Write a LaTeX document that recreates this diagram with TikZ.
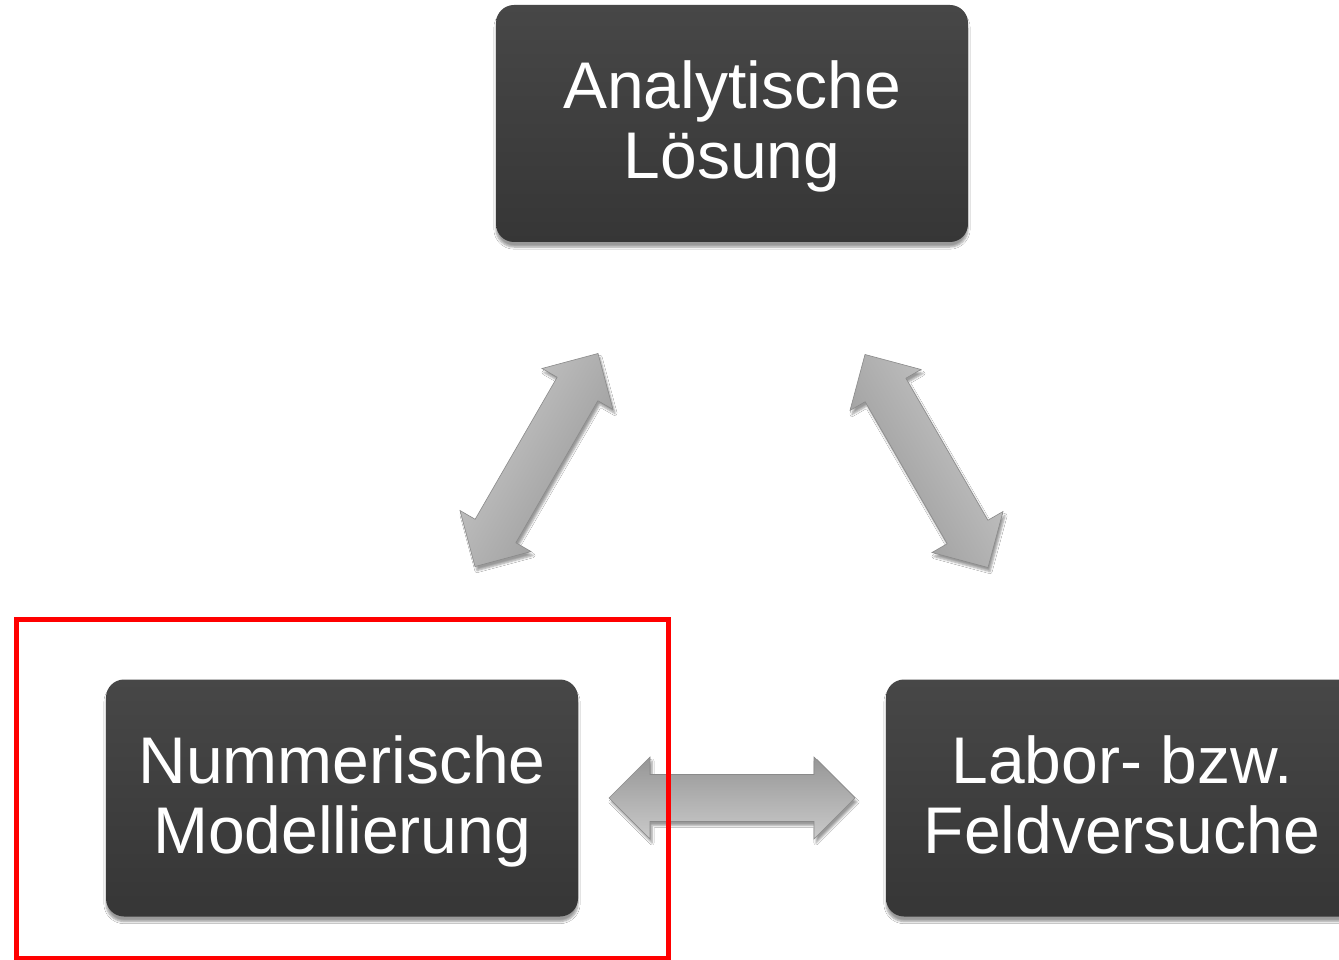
\documentclass[tikz,border=0pt]{standalone}
\usepackage{fontspec}
\setmainfont{Liberation Sans}
\usetikzlibrary{shadows.blur}
\definecolor{boxtop}{HTML}{474747}
\definecolor{boxbot}{HTML}{363636}
\definecolor{arrdark}{HTML}{969696}
\definecolor{arrmid}{HTML}{ABABAB}
\definecolor{arrlight}{HTML}{CACACA}
\definecolor{arredge}{HTML}{8A8A8A}
\tikzset{
  darkbox/.style={rectangle, rounded corners=18pt, minimum width=472pt, minimum height=237pt,
    inner sep=0pt, top color=boxtop, bottom color=boxbot, draw=none,
    blur shadow={shadow xshift=0pt, shadow yshift=-5pt, shadow blur steps=6, shadow blur extra rounding=2pt}},
  boxtext/.style={text=white, align=center, font=\fontsize{66}{70}\selectfont, inner sep=0pt},
  blockarrow/.style={draw=arredge, line width=0.6pt, line join=miter,
    blur shadow={shadow xshift=2pt, shadow yshift=-4pt, shadow blur steps=5}},
  redframe/.style={draw={rgb,255:red,255;green,0;blue,0}, line width=5pt}
}
\newcommand{\dblarrowpath}{(-123,0) -- (-82,-41) -- (-82,-23.5) -- (82,-23.5) -- (82,-41) -- (123,0) -- (82,41) -- (82,23.5) -- (-82,23.5) -- (-82,41) -- cycle}
\begin{document}
\begin{tikzpicture}[x=1pt,y=-1pt]
\useasboundingbox (0,0) rectangle (1339,960);
\clip (0,0) rectangle (1339,960);
\fill[white] (0,0) rectangle (1339,960);

\node[darkbox] (ana) at (732,123.5) {};
\node[darkbox] (num) at (342,798) {};
\node[darkbox] (lab) at (1122,798) {};
\node[boxtext] (anaT) at ([yshift=-3pt]ana.center) {Analytische\\Lösung};
\node[boxtext] (numT) at ([yshift=-3pt]num.center) {Nummerische\\Modellierung};
\node[boxtext] (labT) at ([yshift=-3pt]lab.center) {Labor- bzw.\\Feldversuche\vphantom{g}};

\coordinate (aL) at (536.5,460);
\coordinate (aR) at (926.5,461);
\coordinate (aH) at (732,798);

\begin{scope}[shift={(aL)}, rotate=60]
  \path[blockarrow, top color=arrlight, middle color=arrmid, bottom color=arrdark, shading angle=60] \dblarrowpath;
\end{scope}
\begin{scope}[shift={(aR)}, rotate=-60]
  \path[blockarrow, top color=arrlight, middle color=arrmid, bottom color=arrdark, shading angle=-60] \dblarrowpath;
\end{scope}
\begin{scope}[shift={(aH)}]
  \path[blockarrow, top color=arrdark, middle color=arrmid, bottom color=arrlight] \dblarrowpath;
\end{scope}

\node[redframe, rectangle, inner sep=0pt, minimum width=652pt, minimum height=339pt] (frame) at (342,788.5) {};
\end{tikzpicture}
\end{document}
